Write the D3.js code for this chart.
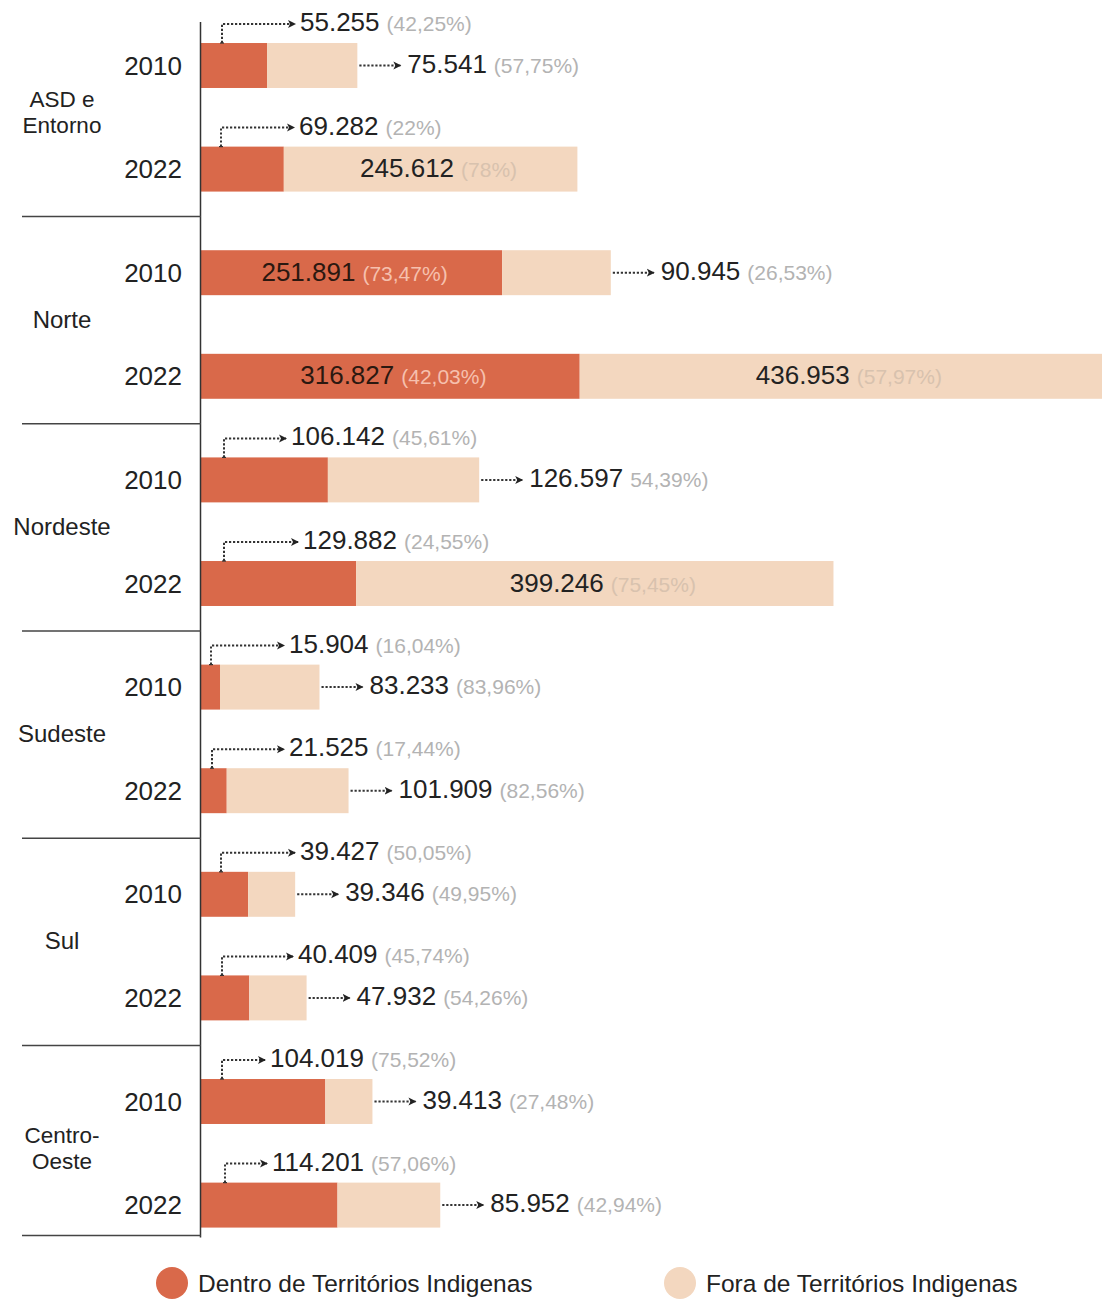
<!DOCTYPE html>
<html><head><meta charset="utf-8">
<script src="https://cdn.jsdelivr.net/npm/d3@7"></script>
<style>
html,body{margin:0;padding:0;background:#fff;}
svg{display:block;font-family:"Liberation Sans",Arial,sans-serif;}
</style></head>
<body><svg id="c" width="1102" height="1299"></svg>
<script>
// ---- data ----
const regions = ["ASD e Entorno","Norte","Nordeste","Sudeste","Sul","Centro-Oeste"];
const regionLines = [["ASD e","Entorno"],["Norte"],["Nordeste"],["Sudeste"],["Sul"],["Centro-","Oeste"]];
const years = ["2010","2022"];
const dentro = [55255,69282,251891,316827,106142,129882,15904,21525,39427,40409,104019,114201];
const fora   = [75541,245612,90945,436953,126597,399246,83233,101909,39346,47932,39413,85952];
const dentroPct = ["(42,25%)","(22%)","(73,47%)","(42,03%)","(45,61%)","(24,55%)","(16,04%)","(17,44%)","(50,05%)","(45,74%)","(75,52%)","(57,06%)"];
const foraPct   = ["(57,75%)","(78%)","(26,53%)","(57,97%)","54,39%)","(75,45%)","(83,96%)","(82,56%)","(49,95%)","(54,26%)","(27,48%)","(42,94%)"];
const legendLabels = ["Dentro de Territórios Indigenas","Fora de Territórios Indigenas"];

// ---- layout (annotation placement) ----
const dentroLabelPos = ["above","above","inside","inside","above","above","above","above","above","above","above","above"];
const foraLabelPos   = ["right","inside","right","inside","right","inside","right","right","right","right","right","right"];
const aboveDx  = [99,98,0,0,90,102,88,88,99,97,69,71];
const leaderDx = [21,20,0,0,23,23,10,11,20,21,21,24];

const colors = {dentro:"#d9694a", fora:"#f3d7bf"};
const fmt = d3.formatLocale({decimal:",", thousands:".", grouping:[3], currency:["",""]}).format(",");

const svg = d3.select("#c");
const rows = [];
regions.forEach((r,gi)=>years.forEach((y,yi)=>{
  const i = gi*2+yi;
  rows.push({key:r+"|"+y, region:r, gi, year:y, i, dentro:dentro[i], fora:fora[i]});
}));

const x = d3.scaleLinear().domain([0, d3.max(rows, d=>d.dentro+d.fora)]).range([201, 1102]);
const y = d3.scaleBand().domain(rows.map(d=>d.key)).range([13.7, 1256.9]).paddingInner(0.566).paddingOuter(0.283);
const bw = y.bandwidth();

// marker
svg.append("defs").append("marker").attr("id","ah").attr("viewBox","0 0 9 9")
  .attr("refX",7).attr("refY",4.5).attr("markerWidth",9).attr("markerHeight",9)
  .attr("markerUnits","userSpaceOnUse").attr("orient","auto")
  .append("path").attr("d","M0,0.5 L8,4.5 L0,8.5 L2,4.5 Z").attr("fill","#222");

// bars
const g = svg.append("g");
g.selectAll("rect.d").data(rows).join("rect").attr("class","d")
  .attr("x", x(0)).attr("y", d=>y(d.key)).attr("width", d=>x(d.dentro)-x(0)).attr("height", bw)
  .attr("fill", colors.dentro);
g.selectAll("rect.f").data(rows).join("rect").attr("class","f")
  .attr("x", d=>x(d.dentro)).attr("y", d=>y(d.key)).attr("width", d=>x(d.dentro+d.fora)-x(d.dentro)).attr("height", bw)
  .attr("fill", colors.fora);

// axis line and separators
const axisX = x(0);
svg.append("line").attr("x1",axisX-0.5).attr("x2",axisX-0.5).attr("y1",22).attr("y2",1237.5)
  .attr("stroke","#333").attr("stroke-width",1.5);
regions.forEach((r,gi)=>{
  const last = rows[gi*2+1];
  const yy = gi < regions.length-1 ? y(last.key)+bw+25 : y(last.key)+bw+8;
  svg.append("line").attr("x1",22).attr("x2",axisX).attr("y1",yy).attr("y2",yy)
    .attr("stroke","#444").attr("stroke-width",1.5);
});

// year labels
svg.selectAll("text.yr").data(rows).join("text").attr("class","yr")
  .attr("x",182).attr("y",d=>y(d.key)+bw/2+9).attr("text-anchor","end")
  .attr("font-size",26).attr("fill","#222").text(d=>d.year);

// region labels
regions.forEach((r,gi)=>{
  const a = rows[gi*2], b = rows[gi*2+1];
  const cy = (y(a.key)+y(b.key)+bw)/2 - 5;
  const lines = regionLines[gi];
  const t = svg.append("text").attr("text-anchor","middle").attr("font-size",lines.length>1?22.5:24).attr("fill","#222");
  lines.forEach((ln,li)=>{
    t.append("tspan").attr("x",62).attr("y", cy + 8 + (li-(lines.length-1)/2)*26).text(ln);
  });
});

function label(xp, yc, val, pct, anchor, valColor, pctColor){
  const t = svg.append("text").attr("x",xp).attr("y",yc+9).attr("text-anchor",anchor);
  t.append("tspan").attr("font-size",26).attr("fill",valColor).text(val);
  t.append("tspan").attr("font-size",21).attr("fill",pctColor).attr("dx",7).text(pct);
}
function dotted(pathD){
  svg.append("path").attr("d",pathD).attr("fill","none").attr("stroke","#333")
    .attr("stroke-width",2).attr("stroke-dasharray","2.2,1.8").attr("marker-end","url(#ah)");
}

rows.forEach(d=>{
  const top = y(d.key), cy = top+bw/2;
  if (dentroLabelPos[d.i]==="above"){
    const lx = axisX + aboveDx[d.i];
    const ly = top - 21;
    const vx = axisX + leaderDx[d.i];
    dotted(`M${vx},${top} L${vx},${ly+2} L${lx-5},${ly+2}`);
    svg.append("line").attr("x1",vx-2).attr("x2",vx+2).attr("y1",top).attr("y2",top).attr("stroke","#333").attr("stroke-width",1.2);
    label(lx, ly, fmt(d.dentro), dentroPct[d.i], "start", "#222", "#b3b3b3");
  } else {
    const cx = (x(0)+x(d.dentro))/2 + 3;
    label(cx, cy-1, fmt(d.dentro), dentroPct[d.i], "middle", "#2b1810", "#f6c0ae");
  }
  if (foraLabelPos[d.i]==="right"){
    const ex = x(d.dentro+d.fora);
    dotted(`M${ex+2},${cy} L${ex+43},${cy}`);
    label(ex+50, cy-2, fmt(d.fora), foraPct[d.i], "start", "#222", "#b3b3b3");
  } else {
    const cx = (x(d.dentro)+x(d.dentro+d.fora))/2 + 8;
    label(cx, cy-1, fmt(d.fora), foraPct[d.i], "middle", "#222", "#d8c2ae");
  }
});

// legend
const legX = [172, 680];
const lg = svg.append("g");
lg.selectAll("circle").data(legendLabels).join("circle")
  .attr("cx",(d,i)=>legX[i]).attr("cy",1283).attr("r",16)
  .attr("fill",(d,i)=>i===0?colors.dentro:colors.fora);
lg.selectAll("text").data(legendLabels).join("text")
  .attr("x",(d,i)=>legX[i]+26).attr("y",1292).attr("font-size",24.5).attr("fill","#222").text(d=>d);
</script></body></html>
